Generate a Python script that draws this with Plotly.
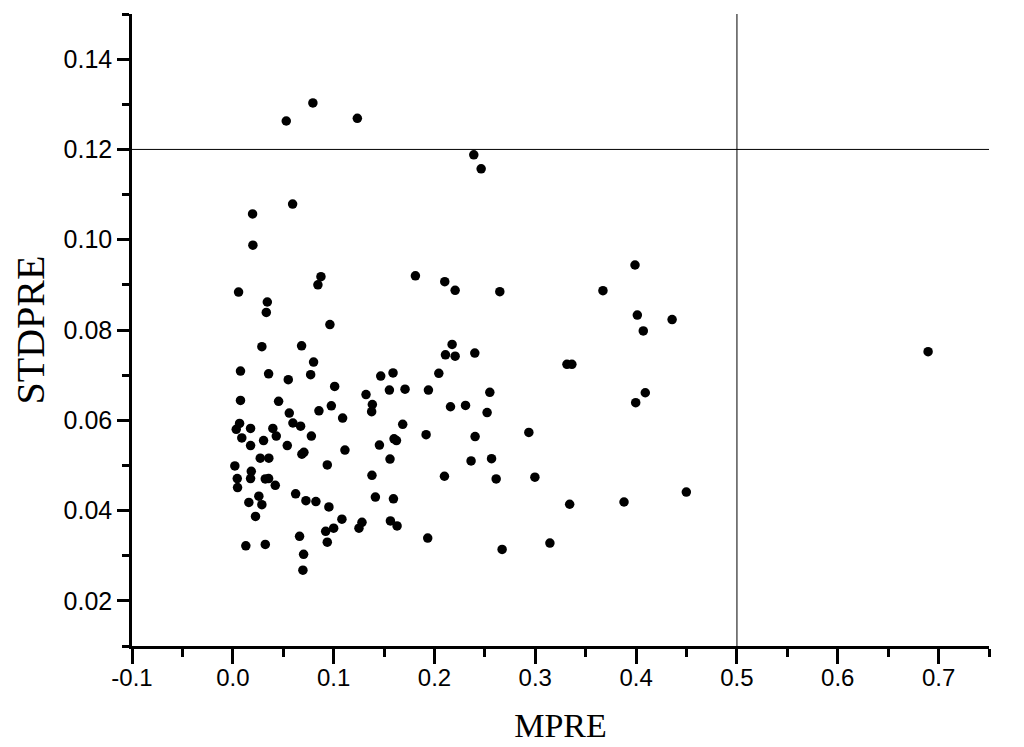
import plotly.graph_objects as go

# MPRE / STDPRE scatter values
mpre = [
    0.0530, 0.0794, 0.1235, 0.2390, 0.2463, 0.0196, 0.0593, 0.0199,
    0.0874, 0.0844, 0.1811, 0.2102, 0.0057, 0.0342, 0.0332, 0.0963,
    0.0288, 0.0682, 0.0801, 0.2109, 0.2175, 0.0076, 0.0355, 0.0550,
    0.0772, 0.1467, 0.1589, 0.2043, 0.1010, 0.0076, 0.0454, 0.1321,
    0.1553, 0.1708, 0.1940, 0.1384, 0.1377, 0.2159, 0.0560, 0.0854,
    0.0977, 0.1089, 0.0596, 0.0672, 0.0067, 0.0034, 0.0176, 0.0397,
    0.0431, 0.0089, 0.0305, 0.0779, 0.1685, 0.1917, 0.1454, 0.1599,
    0.1623, 0.0176, 0.0540, 0.1112, 0.0705, 0.0685, 0.1559, 0.0937,
    0.0272, 0.0357, 0.0020, 0.0183, 0.0176, 0.0044, 0.0047, 0.0322,
    0.0355, 0.0421, 0.1380, 0.2099, 0.0258, 0.0159, 0.0288, 0.0623,
    0.0725, 0.0824, 0.0953, 0.1414, 0.1593, 0.0225, 0.1082, 0.1281,
    0.1251, 0.1563, 0.1629, 0.0921, 0.1000, 0.0662, 0.0937, 0.1933,
    0.0129, 0.0322, 0.0702, 0.0695, 0.2205, 0.2648, 0.3671, 0.3989,
    0.4012, 0.4357, 0.4071, 0.2205, 0.2400, 0.3314, 0.3363, 0.2549,
    0.2308, 0.2522, 0.4091, 0.3996, 0.2403, 0.2936, 0.2363, 0.2566,
    0.2612, 0.2996, 0.3341, 0.3880, 0.4498, 0.2671, 0.3145, 0.6896,
]
stdpre = [
    0.1263, 0.1303, 0.1269, 0.1188, 0.1157, 0.1057, 0.1079, 0.0988,
    0.0918, 0.0900, 0.0920, 0.0907, 0.0884, 0.0862, 0.0839, 0.0812,
    0.0763, 0.0765, 0.0729, 0.0745, 0.0768, 0.0709, 0.0703, 0.0690,
    0.0701, 0.0698, 0.0705, 0.0704, 0.0675, 0.0644, 0.0642, 0.0657,
    0.0667, 0.0669, 0.0667, 0.0635, 0.0619, 0.0630, 0.0616, 0.0621,
    0.0632, 0.0605, 0.0594, 0.0587, 0.0593, 0.0580, 0.0582, 0.0582,
    0.0565, 0.0561, 0.0555, 0.0565, 0.0591, 0.0568, 0.0545, 0.0559,
    0.0555, 0.0544, 0.0544, 0.0534, 0.0529, 0.0525, 0.0514, 0.0501,
    0.0516, 0.0516, 0.0499, 0.0487, 0.0471, 0.0471, 0.0451, 0.0470,
    0.0471, 0.0456, 0.0478, 0.0476, 0.0432, 0.0418, 0.0413, 0.0437,
    0.0422, 0.0420, 0.0408, 0.0430, 0.0426, 0.0387, 0.0381, 0.0374,
    0.0361, 0.0377, 0.0366, 0.0354, 0.0361, 0.0343, 0.0330, 0.0339,
    0.0322, 0.0325, 0.0303, 0.0268, 0.0888, 0.0885, 0.0887, 0.0944,
    0.0833, 0.0823, 0.0798, 0.0742, 0.0749, 0.0724, 0.0724, 0.0662,
    0.0633, 0.0617, 0.0661, 0.0639, 0.0564, 0.0573, 0.0510, 0.0515,
    0.0470, 0.0474, 0.0414, 0.0419, 0.0441, 0.0314, 0.0328, 0.0752,
]

# threshold lines
mpre_limit = 0.5
stdpre_limit = 0.12

# x tick labels (plain hyphen for the negative one, as in the original)
x_tick_vals = [-0.1, 0.0, 0.1, 0.2, 0.3, 0.4, 0.5, 0.6, 0.7]
x_tick_text = ['-0.1', '0.0', '0.1', '0.2', '0.3', '0.4', '0.5', '0.6', '0.7']

fig = go.Figure()

fig.add_trace(go.Scatter(
    x=mpre, y=stdpre,
    mode='markers',
    marker=dict(color='black', size=9.5),
    showlegend=False,
))

fig.add_vline(x=mpre_limit, line=dict(color='black', width=1))
fig.add_hline(y=stdpre_limit, line=dict(color='black', width=1))

x_tick_font = dict(family='Liberation Sans, Arial', size=24, color='black')
y_tick_font = dict(family='Liberation Sans, Arial', size=25, color='black')
serif = 'Liberation Serif, Times New Roman'

# page body has an 8px margin, so the margins are shifted by that
fig.update_layout(
    width=1024, height=747,
    margin=dict(l=124, r=43, t=6, b=109),
    paper_bgcolor='white',
    plot_bgcolor='white',
)

fig.update_xaxes(
    range=[-0.1, 0.75],
    tickvals=x_tick_vals, ticktext=x_tick_text,
    ticks='outside', ticklen=15, tickwidth=2.5, tickcolor='black',
    minor=dict(dtick=0.05, tick0=0, ticks='outside', ticklen=8, tickwidth=2.5, tickcolor='black'),
    showline=True, linecolor='black', linewidth=2.5,
    showgrid=False, zeroline=False,
    tickfont=x_tick_font, ticklabelstandoff=-7,
    title=dict(text='MPRE', font=dict(family=serif, size=34, color='black'), standoff=24),
)

fig.update_yaxes(
    range=[0.01, 0.15],
    tick0=0, dtick=0.02, tickformat='.2f',
    ticks='outside', ticklen=12, tickwidth=2.5, tickcolor='black',
    minor=dict(dtick=0.01, ticks='outside', ticklen=7, tickwidth=2.5, tickcolor='black'),
    showline=True, linecolor='black', linewidth=2.5,
    showgrid=False, zeroline=False,
    tickfont=y_tick_font,
    title=dict(text='STDPRE', font=dict(family=serif, size=40, color='black'), standoff=14),
)

fig.write_html("out.html")
